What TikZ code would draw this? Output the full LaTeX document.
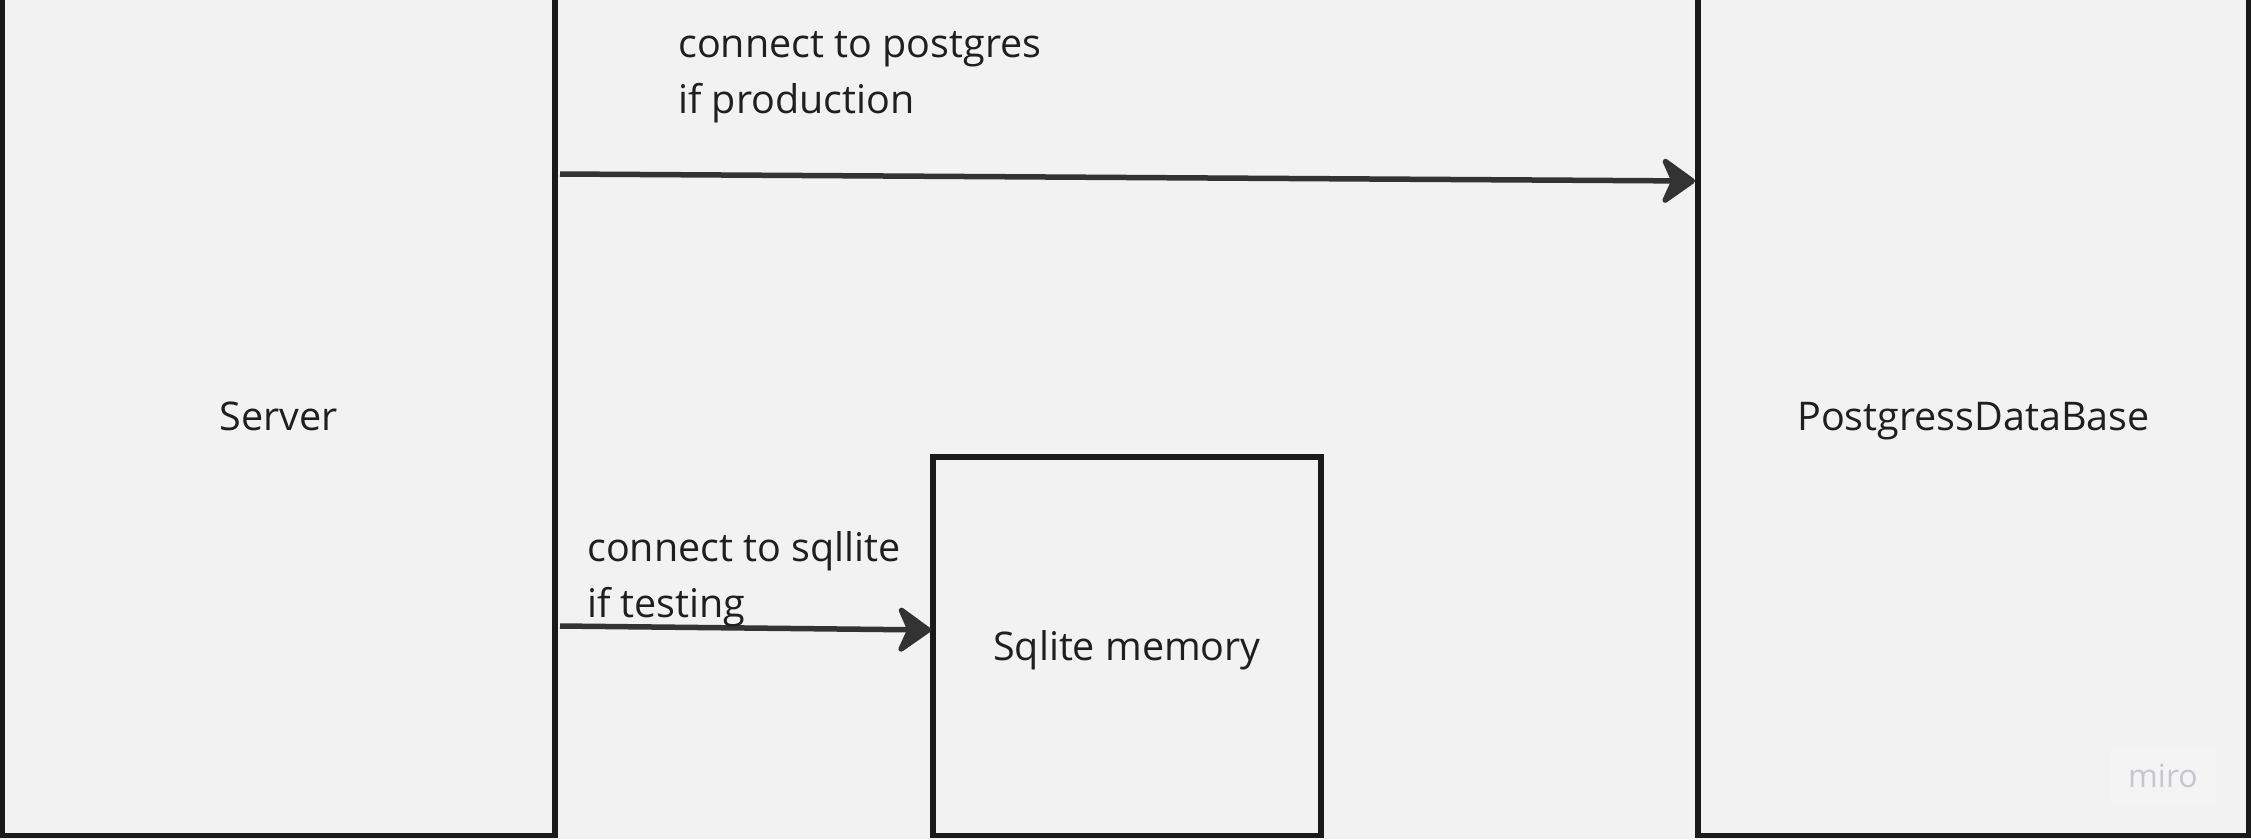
\documentclass[tikz,border=0pt]{standalone}
\usepackage{fontspec}
\setmainfont{Open Sans}
\usetikzlibrary{arrows.meta}
\definecolor{bg}{HTML}{F2F2F2}
\definecolor{boxline}{HTML}{1A1A1A}
\definecolor{arrowc}{HTML}{333333}
\definecolor{txt}{HTML}{1F1F1F}
\definecolor{mirotxt}{HTML}{C6C6D0}
\definecolor{mirobg}{HTML}{F4F4F4}
\begin{document}
\begin{tikzpicture}[x=1pt,y=-1pt,
  block/.style={draw=boxline, line width=5.5pt, fill=bg, inner sep=0pt, outer sep=0pt,
    text=txt, font=\fontsize{39.5}{48}\selectfont, text height=28.3pt, text depth=0pt},
  tallblock/.style={block, minimum height=855.5pt, text height=46pt},
  conn/.style={draw=arrowc, line width=5.5pt,
    -{Stealth[length=38pt, width=54pt, inset=12pt, round]}},
  lbl/.style={anchor=base west, inner sep=0pt, text=txt, align=left,
    font=\fontsize{39.5}{56}\selectfont}
]
\useasboundingbox (0,0) rectangle (2251,839);
\fill[bg] (0,0) rectangle (2251,839);

\node[tallblock, minimum width=553pt] (server) at (278.5,407.75) {Server};
\node[tallblock, minimum width=551pt] (pg) at (1973.5,407.75) {PostgressDataBase};
\node[block, minimum width=388pt, minimum height=378.5pt] (sq) at (1127,646) {Sqlite memory};

\coordinate (a1s) at (560,174);
\coordinate (a1e) at (1695,181);
\coordinate (a2s) at (560,626);
\coordinate (a2e) at (931,630);
\draw[conn] (a1s) -- (a1e);
\draw[conn] (a2s) -- (a2e);

\node[lbl] (l1) at (678,113) {connect to postgres\\if production};
\node[lbl] (l2) at (587,617) {connect to sqllite\\if testing};

\node[fill=mirobg, minimum width=106pt, minimum height=58pt, inner sep=0pt,
  text=mirotxt, font=\fontsize{32}{32}\selectfont] (miro) at (2163,776) {miro};
\end{tikzpicture}
\end{document}
